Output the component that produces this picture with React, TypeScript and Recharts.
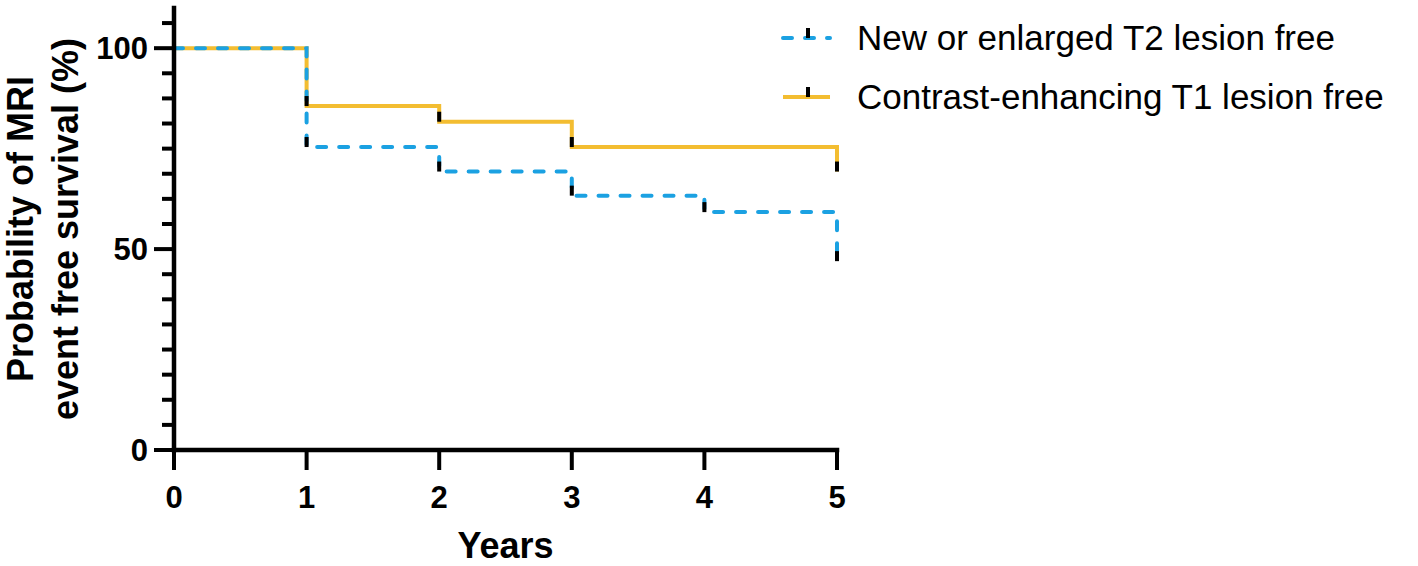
import React from "react";
import { LineChart, Line, XAxis, YAxis, Legend } from "recharts";

const years = [0, 1, 2, 3, 4, 5];
const t2Free = [100, 75.4, 69.3, 63.3, 59.2, 47.0];
const t1Free = [100, 85.6, 81.7, 75.4, 75.4, 69.3];

const xTicks = [0, 1, 2, 3, 4, 5];
const yTicks = [0, 6.25, 12.5, 18.75, 25, 31.25, 37.5, 43.75, 50, 56.25, 62.5, 68.75, 75, 81.25, 87.5, 93.75, 100, 106.25];
const yLabelTicks = [0, 50, 100];

const seriesNames = ["New or enlarged T2 lesion free", "Contrast-enhancing T1 lesion free"];

const BLUE = "#1BA1E2";
const YELLOW = "#F3BD31";
const FONT = "'Liberation Sans', Arial, sans-serif";

const data = years.map((year, i) => ({ year, t2: t2Free[i], t1: t1Free[i] }));

// black censor tick wherever the curve steps down
function censorDot(values: number[]) {
  return (props: any) => {
    const { cx, cy, index } = props;
    if (index === 0 || values[index] === values[index - 1]) return <g key={`n${index}`} />;
    return <rect key={`c${index}`} x={cx - 2} y={cy - 10} width={4} height={10} fill="#000" />;
  };
}

function YTick(props: any) {
  const { x, y, payload } = props;
  const major = yLabelTicks.includes(payload.value);
  const len = major ? 18 : 10;
  return (
    <g>
      <line x1={x - len} x2={x} y1={y} y2={y} stroke="#000" strokeWidth={4} />
      {major && (
        <text x={x - 24} y={y} dy={11} textAnchor="end" fontFamily={FONT} fontWeight="bold" fontSize={31} fill="#000">
          {payload.value}
        </text>
      )}
    </g>
  );
}

function XTick(props: any) {
  const { x, y, payload } = props;
  return (
    <g>
      <line x1={x} x2={x} y1={y} y2={y + 18} stroke="#000" strokeWidth={4} />
      <text x={x} y={y + 56} textAnchor="middle" fontFamily={FONT} fontWeight="bold" fontSize={31} fill="#000">
        {payload.value}
      </text>
    </g>
  );
}

function YTitle(props: any) {
  const { viewBox } = props;
  const cy = viewBox.y + viewBox.height / 2;
  const x1 = viewBox.x + 33;
  const x2 = viewBox.x + 78;
  return (
    <g fontFamily={FONT} fontWeight="bold" fontSize={36} fill="#000">
      <text x={x1} y={cy} textAnchor="middle" transform={`rotate(-90 ${x1} ${cy})`}>
        Probability of MRI
      </text>
      <text x={x2} y={cy} textAnchor="middle" transform={`rotate(-90 ${x2} ${cy})`}>
        event free survival (%)
      </text>
    </g>
  );
}

function XTitle(props: any) {
  const { viewBox } = props;
  return (
    <text
      x={viewBox.x + viewBox.width / 2}
      y={viewBox.y + 108}
      textAnchor="middle"
      fontFamily={FONT}
      fontWeight="bold"
      fontSize={36}
      fill="#000"
    >
      Years
    </text>
  );
}

function LegendBox() {
  const rows = [
    { name: seriesNames[0], color: BLUE, dash: "9 13", cap: "round" as const, y: 38 },
    { name: seriesNames[1], color: YELLOW, dash: undefined, cap: "butt" as const, y: 97 },
  ];
  return (
    <svg width={640} height={130}>
      {rows.map((r) => (
        <g key={r.name}>
          <line x1={5} x2={52} y1={r.y} y2={r.y} stroke={r.color} strokeWidth={4} strokeDasharray={r.dash} strokeLinecap={r.cap} />
          <rect x={28} y={r.y - 10} width={4} height={10} fill="#000" />
          <text x={79} y={r.y + 12} fontFamily={FONT} fontSize={35} fill="#000">
            {r.name}
          </text>
        </g>
      ))}
    </svg>
  );
}

export default function App() {
  return (
    <div style={{ position: "absolute", left: 0, top: 0, width: 1418, height: 566, background: "#fff" }}>
      <LineChart width={1418} height={566} data={data} margin={{ top: 8, right: 581, bottom: 0, left: 0 }}>
        <XAxis
          dataKey="year"
          type="number"
          domain={[0, 5]}
          ticks={xTicks}
          height={116}
          tickSize={0}
          tickLine={false}
          tick={<XTick />}
          axisLine={{ stroke: "#000", strokeWidth: 4.5, strokeLinecap: "square" }}
          label={<XTitle />}
        />
        <YAxis
          type="number"
          domain={[0, 110]}
          ticks={yTicks}
          width={174}
          tickSize={0}
          tickLine={false}
          tick={<YTick />}
          interval={0}
          axisLine={{ stroke: "#000", strokeWidth: 4.5, strokeLinecap: "square" }}
          label={<YTitle />}
        />
        <Legend
          layout="horizontal"
          verticalAlign="middle"
          align="center"
          wrapperStyle={{ left: 778, top: 0, width: 640, height: 130 }}
          content={() => <LegendBox />}
        />
        <Line
          type="stepAfter"
          dataKey="t1"
          stroke={YELLOW}
          strokeWidth={4}
          dot={censorDot(t1Free)}
          activeDot={false}
          isAnimationActive={false}
        />
        <Line
          type="stepAfter"
          dataKey="t2"
          stroke={BLUE}
          strokeWidth={4}
          strokeDasharray="9 13"
          strokeLinecap="round"
          dot={censorDot(t2Free)}
          activeDot={false}
          isAnimationActive={false}
        />
      </LineChart>
    </div>
  );
}
